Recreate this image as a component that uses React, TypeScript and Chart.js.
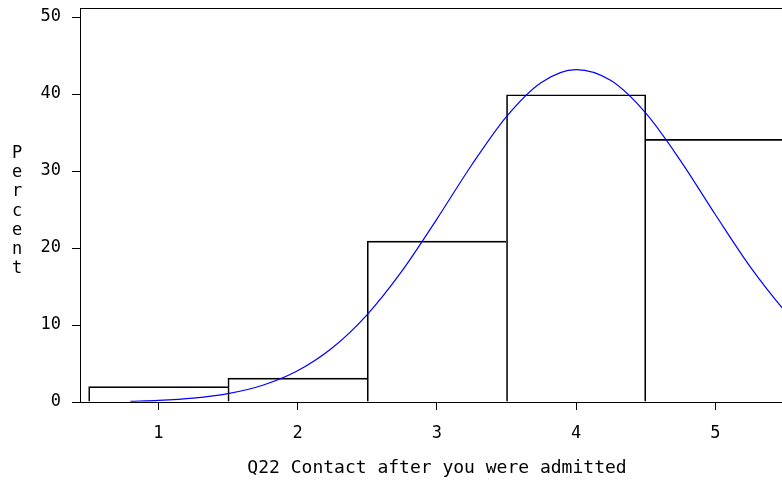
import React, { useEffect, useRef } from "react";
import { Chart, registerables } from "chart.js";

Chart.register(...registerables);

// ---- data ----
const categories = [1, 2, 3, 4, 5];
const percents = [2.0, 3.1, 20.9, 39.9, 34.1];
const xTickValues = [1, 2, 3, 4, 5];
const yTickValues = [0, 10, 20, 30, 40, 50];
// normal curve
const curveX = [0.8, 1.0, 1.25, 1.5, 1.75, 2.0, 2.25, 2.5, 2.75, 3.0, 3.25, 3.5, 3.75, 4.0, 4.25, 4.5, 4.75, 5.0, 5.25, 5.5, 5.56];
const curveY = [0.1, 0.21, 0.5, 1.08, 2.17, 4.05, 7.04, 11.36, 17.03, 23.76, 30.78, 37.07, 41.5, 43.17, 41.74, 37.51, 31.32, 24.32, 17.55, 11.77, 10.57];

const xTitle = "Q22 Contact after you were admitted";
const yTitle = "Percent";

const X_MIN = 0.438;
const X_MAX = 5.564;
const Y_MIN = 0;
const Y_MAX = 51.17;

const FONT = "'DejaVu Sans Mono', monospace";

const framePlugin = {
  id: "frameAndYTitle",
  afterDraw(chart: any) {
    const { ctx, chartArea } = chart;
    ctx.save();
    ctx.strokeStyle = "#000";
    ctx.lineWidth = 1;
    ctx.beginPath();
    ctx.moveTo(chartArea.left, Math.round(chartArea.top) + 0.5);
    ctx.lineTo(chartArea.right, Math.round(chartArea.top) + 0.5);
    ctx.stroke();
    ctx.fillStyle = "#000";
    ctx.font = `17px ${FONT}`;
    ctx.textAlign = "center";
    ctx.textBaseline = "alphabetic";
    const letters = yTitle.split("");
    letters.forEach((ch, i) => {
      ctx.fillText(ch, 17, 158 + i * 19.2);
    });
    ctx.restore();
  },
};

// the taller of two neighbouring bars draws their shared edge (single 1px line)
const barBorder = (c: any) => {
  const i = c.dataIndex;
  const v = percents[i];
  const prev = percents[i - 1];
  const next = percents[i + 1];
  return {
    top: 1,
    bottom: 0,
    left: prev === undefined || prev <= v ? 1 : 0,
    right: next === undefined || next < v ? 1 : 0,
  };
};

export default function App() {
  const ref = useRef<HTMLCanvasElement>(null);
  useEffect(() => {
    if (!ref.current) return;
    const chart = new Chart(ref.current, {
      type: "bar",
      data: {
        datasets: [
          {
            type: "line",
            data: curveX.map((x, i) => ({ x, y: curveY[i] })),
            borderColor: "#0000ff",
            borderWidth: 1.2,
            pointRadius: 0,
            cubicInterpolationMode: "monotone",
            fill: false,
            order: 0,
          } as any,
          {
            type: "bar",
            data: categories.map((c, i) => ({ x: c, y: percents[i] })),
            backgroundColor: "rgba(255,255,255,0)",
            borderColor: "#000",
            borderWidth: barBorder,
            borderSkipped: false,
            barPercentage: 1,
            categoryPercentage: 1,
            order: 1,
          } as any,
        ],
      },
      options: {
        responsive: false,
        devicePixelRatio: 1,
        animation: false,
        layout: { padding: { top: 8, left: 0, right: 0, bottom: 0 } },
        plugins: { legend: { display: false }, tooltip: { enabled: false } },
        scales: {
          x: {
            type: "linear",
            min: X_MIN,
            max: X_MAX,
            offset: false,
            afterBuildTicks: (scale: any) => {
              scale.ticks = xTickValues.map((v) => ({ value: v }));
            },
            afterFit: (scale: any) => {
              scale.height = 81;
              scale.paddingLeft = 0;
              scale.paddingRight = 0;
            },
            grid: {
              offset: false,
              drawOnChartArea: false,
              drawTicks: true,
              tickLength: 8,
              color: "#000",
              lineWidth: 1,
            },
            border: { display: true, color: "#000", width: 1 },
            ticks: {
              color: "#000",
              font: { family: FONT, size: 17 },
              padding: 13,
              maxRotation: 0,
              autoSkip: false,
              callback: (v: any) => String(v),
            },
            title: {
              display: true,
              text: xTitle,
              color: "#000",
              font: { family: FONT, size: 18 },
              padding: { top: 0, bottom: 4 },
            },
          },
          y: {
            type: "linear",
            min: Y_MIN,
            max: Y_MAX,
            afterBuildTicks: (scale: any) => {
              scale.ticks = yTickValues.map((v) => ({ value: v }));
            },
            afterFit: (scale: any) => {
              scale.width = 80;
              scale.paddingTop = 0;
              scale.paddingBottom = 0;
            },
            grid: {
              drawOnChartArea: false,
              drawTicks: true,
              tickLength: 8,
              color: "#000",
              lineWidth: 1,
            },
            border: { display: true, color: "#000", width: 1 },
            ticks: {
              color: "#000",
              font: { family: FONT, size: 17 },
              padding: 11,
              autoSkip: false,
              callback: (v: any) => String(v),
            },
          },
        },
      } as any,
      plugins: [framePlugin],
    });
    return () => chart.destroy();
  }, []);
  return (
    <div style={{ position: "fixed", left: 0, top: 0, width: 782, height: 483, overflow: "hidden", background: "#fff" }}>
      <canvas ref={ref} width={794} height={483} style={{ display: "block", width: 794, height: 483 }} />
    </div>
  );
}
